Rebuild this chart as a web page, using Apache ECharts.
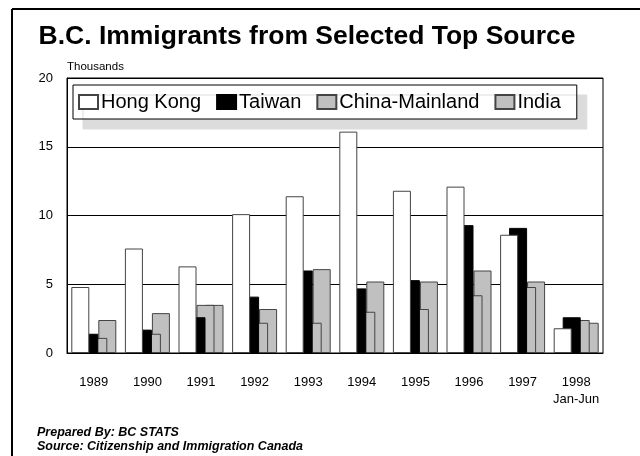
<!DOCTYPE html>
<html><head><meta charset="utf-8">
<script src="https://cdn.jsdelivr.net/npm/echarts@6/dist/echarts.min.js"></script>
<style>html,body{margin:0;padding:0;background:#fff}#c{width:640px;height:456px}</style>
</head><body><div id="c"></div>
<script>
var categories = ['1989','1990','1991','1992','1993','1994','1995','1996','1997','1998\nJan-Jun'];
var hongKong = [4.8, 7.6, 6.3, 10.1, 11.4, 16.1, 11.8, 12.1, 8.6, 1.8];
var taiwan   = [1.4, 1.7, 2.6, 4.1, 6.0, 4.7, 5.3, 9.3, 9.1, 2.6];
var china    = [1.1, 1.4, 3.5, 2.2, 2.2, 3.0, 3.2, 4.2, 4.8, 2.4];
var india    = [2.4, 2.9, 3.5, 3.2, 6.1, 5.2, 5.2, 6.0, 5.2, 2.2];
var yTicks = [0, 5, 10, 15, 20];

var FONT = 'Liberation Sans, Arial, sans-serif';
var chart = echarts.init(document.getElementById('c'), null, {renderer:'canvas'});
function bar(name, data, color, border, z){
  return {name:name, type:'bar', data:data, barWidth:18, barGap:'-50%', z:z,
    itemStyle:{color:color, borderColor:border, borderWidth:1}, emphasis:{disabled:true}, animation:false};
}
chart.setOption({
  animation:false,
  textStyle:{fontFamily:FONT, color:'#000'},
  grid:{left:67, right:37, top:78, bottom:103, show:true, borderColor:'#000', borderWidth:1},
  legend:{
    left:73, top:85, orient:'horizontal', padding:[7,16,7,5], itemGap:15,
    itemWidth:19, itemHeight:14, icon:'rect',
    backgroundColor:'#fff', borderColor:'#000', borderWidth:1,
    shadowColor:'#dcdcdc', shadowBlur:0, shadowOffsetX:10, shadowOffsetY:10,
    textStyle:{fontSize:20, color:'#000', fontFamily:FONT, padding:[0,0,0,-2]},
    selectedMode:false,
    data:['Hong Kong','Taiwan','China-Mainland','India']
  },
  xAxis:{type:'category', data:categories,
    axisLine:{lineStyle:{color:'#000', width:1}}, axisTick:{show:false},
    axisLabel:{interval:0, fontSize:13, color:'#000', margin:21, lineHeight:17, fontFamily:FONT}},
  yAxis:{type:'value', min:yTicks[0], max:yTicks[yTicks.length-1], interval:5,
    axisLine:{show:true, lineStyle:{color:'#000'}}, axisTick:{show:false},
    splitLine:{lineStyle:{color:'#000', width:1}},
    axisLabel:{fontSize:13, color:'#000', margin:14, fontFamily:FONT}},
  series:[
    bar('Hong Kong', hongKong, '#ffffff', '#444', 6),
    bar('Taiwan', taiwan, '#000000', '#000', 5),
    bar('China-Mainland', china, '#c0c0c0', '#444', 4),
    bar('India', india, '#c0c0c0', '#444', 3)
  ],
  graphic:[
    {type:'line', shape:{x1:12, y1:9, x2:640, y2:9}, style:{stroke:'#000', lineWidth:2}},
    {type:'line', shape:{x1:12, y1:9, x2:12, y2:456}, style:{stroke:'#000', lineWidth:2}},
    {type:'text', style:{x:307, y:37, text:'B.C. Immigrants from Selected Top Source', textAlign:'center', textVerticalAlign:'middle', font:'bold 26.5px '+FONT, fill:'#000'}},
    {type:'text', style:{x:67, y:67, text:'Thousands', textAlign:'left', textVerticalAlign:'middle', font:'11.5px '+FONT, fill:'#000'}},
    {type:'text', style:{x:37, y:433, text:'Prepared By: BC STATS', textAlign:'left', textVerticalAlign:'middle', font:'italic bold 12.5px '+FONT, fill:'#000'}},
    {type:'text', style:{x:37, y:447, text:'Source: Citizenship and Immigration Canada', textAlign:'left', textVerticalAlign:'middle', font:'italic bold 12.5px '+FONT, fill:'#000'}}
  ]
});
</script></body></html>
